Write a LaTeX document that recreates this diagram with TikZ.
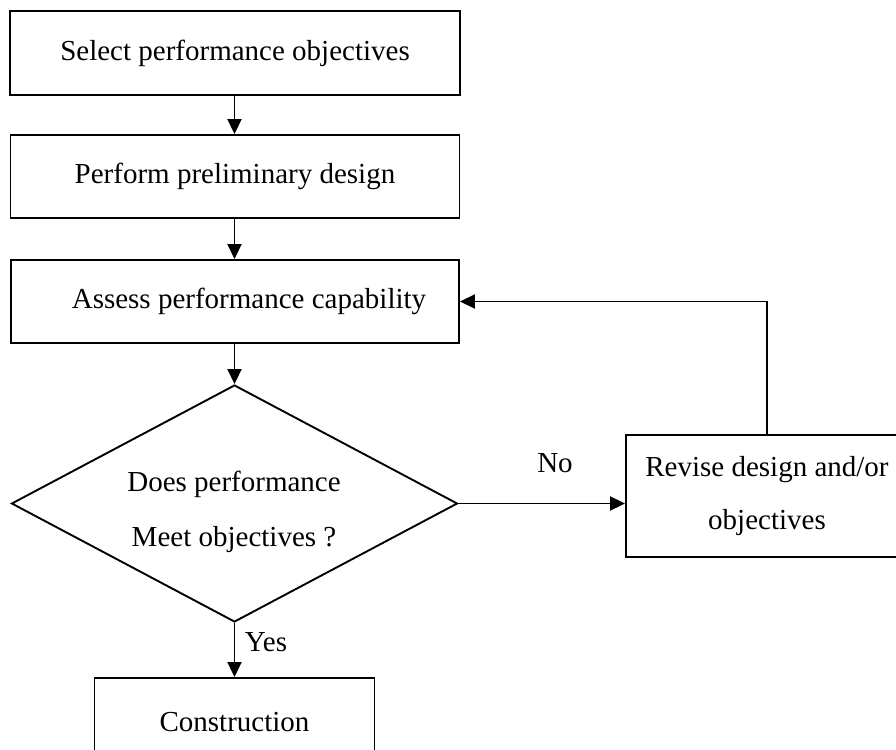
\documentclass[tikz,border=0pt]{standalone}
\usepackage{fontspec}
\setmainfont{Liberation Serif}
\usetikzlibrary{shapes.geometric,arrows.meta}
\tikzset{
  box/.style={draw, line width=1.9pt, rectangle, inner sep=0pt, align=center},
  dec/.style={draw, line width=1.9pt, diamond, inner sep=0pt, aspect=1.88},
  conn/.style={line width=1.9pt, -{Triangle[length=15pt,width=14pt]}},
  lbl/.style={inner sep=0pt, align=center},
  every node/.style={font=\fontsize{29}{53}\selectfont}
}
\begin{document}
\begin{tikzpicture}[x=1pt,y=-1pt]
\useasboundingbox (0,0) rectangle (896,749);
\clip (0,0) rectangle (896,749);
\node[box, minimum width=450pt, minimum height=84pt] (b1) at (235,53) {Select performance objectives};
\node[box, minimum width=449pt, minimum height=83pt] (b2) at (235,176.5) {Perform preliminary design};
\node[box, minimum width=448pt, minimum height=83pt] (b3) at (235,301.5) {\hspace*{28pt}Assess performance capability};
\node[dec, minimum width=446pt, minimum height=237pt] (d) at (234.5,503.5) {};
\node[lbl, font=\fontsize{29}{55}\selectfont] (dq) at (234,512) {Does performance\\Meet objectives ?};
\node[box, minimum width=282pt, minimum height=122pt] (r) at (767,496) {Revise design and/or\\objectives};
\node[box, minimum width=280pt, minimum height=88pt] (c) at (234.5,722) {Construction};
\node[lbl] (no) at (555,463) {No};
\node[lbl] (yes) at (266,642) {Yes};
\draw[conn] (b1.south -| d.north) -- (b2.north -| d.north);
\draw[conn] (b2.south -| d.north) -- (b3.north -| d.north);
\draw[conn] (b3.south -| d.north) -- (d.north);
\draw[conn] (d.east) -- (d.east -| r.west);
\draw[conn] (r.north) |- (b3.east);
\draw[conn] (d.south) -- (c.north);
\end{tikzpicture}
\end{document}
